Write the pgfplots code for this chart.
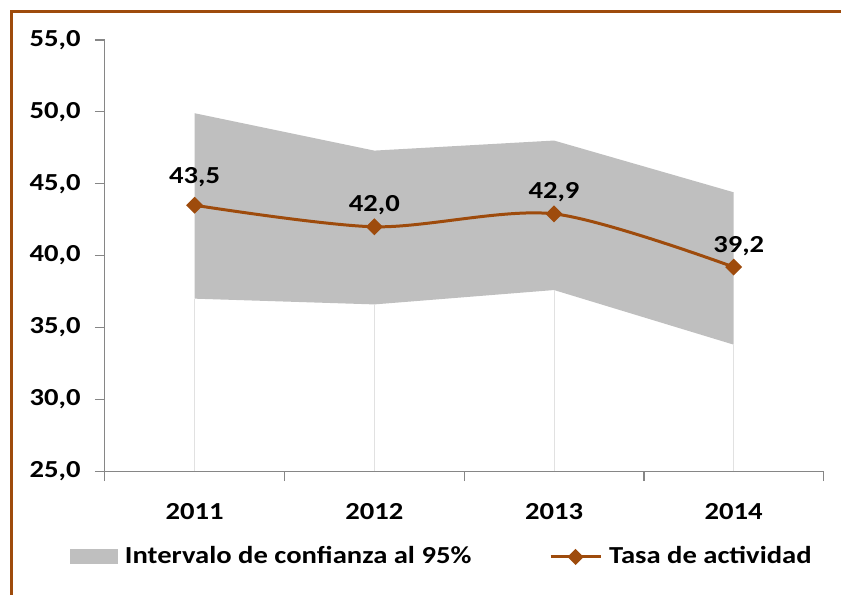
\documentclass[border=0pt]{standalone}
\usepackage{fontspec}
\setmainfont{Carlito}[FakeStretch=1.17]
\usepackage{pgfplots}
\pgfplotsset{compat=1.18}
\usepgfplotslibrary{fillbetween}
\definecolor{brownA}{RGB}{158,75,12}
\definecolor{bandgray}{RGB}{191,191,191}
\definecolor{axgray}{RGB}{134,134,134}
\definecolor{dropgray}{RGB}{225,225,225}
\begin{document}
\fontsize{24.5bp}{28bp}\selectfont\bfseries
\begin{tikzpicture}
\path (0,0) rectangle (842bp,596bp);
\draw[brownA, line width=3bp] (12bp,0) -- (12bp,584bp) -- (842bp,584bp);
\begin{axis}[
  at={(105bp,124bp)}, anchor=south west,
  scale only axis, width=720bp, height=432bp,
  xmin=-0.5, xmax=3.5, ymin=25, ymax=55,
  axis x line*=bottom, axis y line*=left,
  axis line style={axgray, line width=1.3bp},
  xtick={0,1,2,3}, xticklabels={2011,2012,2013,2014},
  minor xtick={-0.5,0.5,1.5,2.5,3.5},
  ytick={25,30,...,55},
  tick align=outside,
  major tick length=10bp, minor tick length=10bp,
  tick style={axgray, line width=1.3bp},
  major x tick style={draw=none},
  /pgf/number format/fixed, /pgf/number format/fixed zerofill,
  /pgf/number format/precision=1, /pgf/number format/use comma,
  /pgf/number format/assume math mode=true,
  xticklabel style={yshift=-14bp},
  yticklabel style={xshift=-6bp},
  clip mode=individual,
  legend columns=2,
  legend style={at={(-0.0486,-0.199)}, anchor=west, draw=none, fill=none,
    inner sep=0pt,
    /tikz/every odd column/.append style={column sep=5bp},
    /tikz/every even column/.append style={column sep=76bp}},
]
\addplot[ycomb, dropgray, line width=1bp, forget plot] coordinates {(0,37.0) (1,36.6) (2,37.6) (3,33.8)};
\addplot[draw=none, name path=up, forget plot] coordinates {(0,49.9) (1,47.3) (2,48.0) (3,44.4)};
\addplot[draw=none, name path=lo, forget plot] coordinates {(0,37.0) (1,36.6) (2,37.6) (3,33.8)};
\addplot[bandgray, draw=none, legend image code/.code={\fill[bandgray] (0bp,-7.5bp) rectangle (48bp,7.5bp);}] fill between[of=up and lo];
\addlegendentry{Intervalo de confianza al 95\%}
\addplot[brownA, line width=3bp, smooth, mark=square*, mark size=4.5bp, mark options={rotate=45, solid},
  legend image code/.code={\draw[brownA, line width=3bp] (0bp,0bp) -- (50bp,0bp); \fill[brownA] (25bp,-6bp) -- (31bp,0bp) -- (25bp,6bp) -- (19bp,0bp) -- cycle;}]
  coordinates {(0,43.5) (1,42.0) (2,42.9) (3,39.2)};
\addlegendentry{Tasa de actividad}
\node at (axis cs:0,43.5) [yshift=28bp] {43,5};
\node at (axis cs:1,42.0) [yshift=22bp] {42,0};
\node at (axis cs:2,42.9) [yshift=22bp] {42,9};
\node at (axis cs:3,39.2) [yshift=21bp, xshift=5bp] {39,2};
\end{axis}
\end{tikzpicture}
\end{document}
